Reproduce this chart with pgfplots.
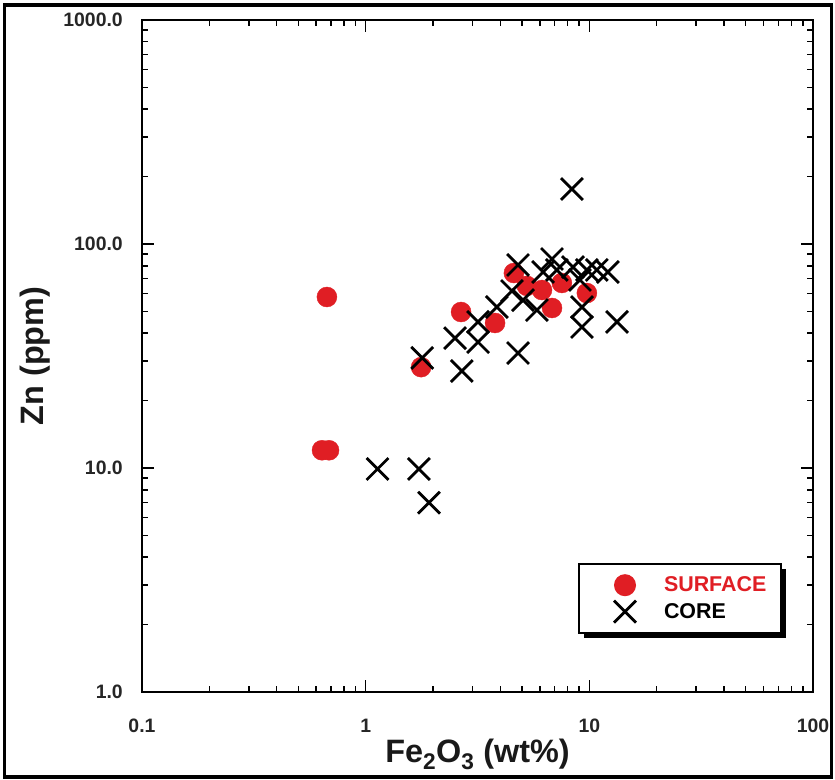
\documentclass[border=0pt]{standalone}
\usepackage{pgfplots}
\pgfplotsset{compat=1.18}
\usepackage{fontspec}
\setmainfont{Liberation Sans}
\usetikzlibrary{shadows}
\definecolor{myred}{RGB}{224,30,36}
\pgfplotsset{mylegimg/.style={legend image code/.code={%
  \pgfpathrectangle{\pgfqpoint{0bp}{-9bp}}{\pgfqpoint{70bp}{18bp}}\pgfusepath{use as bounding box}%
  \draw[##1] plot coordinates {(35bp,0bp)};}}}

\begin{document}
\begin{tikzpicture}
\useasboundingbox (0,0) rectangle (835bp,780bp);
\draw[line width=3.5bp] (4.5bp,3bp) rectangle (831.5bp,775bp);
\begin{axis}[
  at={(142bp,88bp)}, anchor=south west,
  scale only axis, width=671bp, height=672bp,
  xmode=log, ymode=log,
  xmin=0.1, xmax=100, ymin=1, ymax=1000,
  xtick={0.1,1,10,100}, xticklabels={0.1,1,10,100},
  ytick={1,10,100,1000}, yticklabels={1.0,10.0,100.0,1000.0},
  tick align=inside,
  major tick length=12bp, minor tick length=6.5bp,
  tick style={black, line width=1.6bp},
  axis line style={line width=2.5bp},
  tick label style={font=\fontsize{19.5}{23}\selectfont\bfseries, inner sep=0pt, text=black!85},
  yticklabel style={anchor=east, xshift=-19bp},
  xticklabel style={anchor=north, yshift=-27bp},
  xlabel={Fe\textsubscript{2}O\textsubscript{3} (wt\%)},
  ylabel={Zn (ppm)},
  label style={font=\fontsize{32.5}{38}\selectfont\bfseries, text=black!90},
  xlabel style={at={(axis description cs:0.5,-0.1042)}, anchor=base},
  ylabel style={at={(axis description cs:-0.1468,0.5)}, anchor=base},
  legend style={at={(axis description cs:0.6498,0.192)}, anchor=north west,
    draw=black, line width=2bp, fill=white,
    drop shadow={shadow xshift=5bp, shadow yshift=-5bp, fill=black, opacity=1},
    font=\fontsize{21.5}{25}\selectfont\bfseries,
    inner xsep=11bp, inner ysep=12bp, row sep=8bp,
    nodes={inner xsep=4bp, inner ysep=1bp}},
  legend cell align=left,
]
\addplot[only marks, mark=*, mark size=10bp, color=myred, mark options={fill=myred, draw=myred}, mylegimg]
coordinates {
(0.671,58.0) (0.638,12.0) (0.686,12.0) (1.77,28.2) (2.67,49.7) (3.79,44.4)
(4.60,74.2) (5.26,65.0) (6.14,62.3) (7.54,67.0) (6.81,51.8) (9.75,60.4)
};
\addlegendentry{\textcolor{myred}{SURFACE}}
\addplot[only marks, mark=x, mark size=15.5bp, color=black, line width=2.8bp, mylegimg]
coordinates {
(1.13,9.9) (1.73,9.9) (1.92,7.0) (1.79,31.0) (2.69,27.1) (2.51,38.0)
(3.18,36.5) (3.18,44.9) (3.86,52.3) (4.51,61.7) (4.80,32.6) (4.80,80.6)
(6.81,85.7) (6.21,75.0) (7.16,76.6) (8.45,78.9) (9.75,76.6) (10.8,76.6)
(12.1,75.0) (9.08,69.1) (9.27,52.3) (9.27,42.6) (13.3,44.9) (8.36,176)
(5.05,56.2) (5.83,50.7)
};
\addlegendentry{CORE}
\end{axis}
\end{tikzpicture}
\end{document}
